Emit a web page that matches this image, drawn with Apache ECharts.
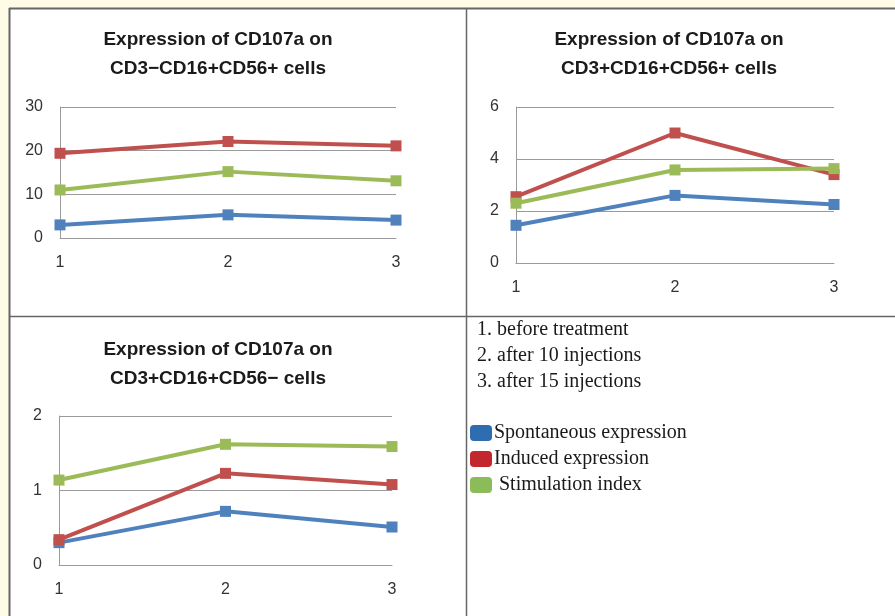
<!DOCTYPE html>
<html>
<head>
<meta charset="utf-8">
<script src="https://cdn.jsdelivr.net/npm/echarts@6/dist/echarts.min.js"></script>
<style>
  html, body { margin: 0; padding: 0; background: #fefbe7; }
  #chart { width: 895px; height: 616px; }
</style>
</head>
<body>
<div id="chart"></div>
<script>
// ---- data ----
const categories = ['1', '2', '3'];
const seriesNames = ['Spontaneous expression', 'Induced expression', 'Stimulation index'];
const seriesColors = ['#4f81bd', '#c0504d', '#9bbb59'];
const legendColors = ['#2d6db0', '#c1272d', '#8cbc5a'];

const panelTitles = [
  ['Expression of CD107a on', 'CD3\u2212CD16+CD56+ cells'],
  ['Expression of CD107a on', 'CD3+CD16+CD56+ cells'],
  ['Expression of CD107a on', 'CD3+CD16+CD56\u2212 cells']
];
const yMax = [30, 6, 2];
const yInterval = [10, 2, 1];

// panel 1: CD3-CD16+CD56+
const p1Spontaneous = [3.0, 5.3, 4.1];
const p1Induced = [19.4, 22.1, 21.1];
const p1Stimulation = [11.0, 15.2, 13.1];
// panel 2: CD3+CD16+CD56+
const p2Spontaneous = [1.45, 2.6, 2.25];
const p2Induced = [2.55, 5.0, 3.4];
const p2Stimulation = [2.3, 3.58, 3.63];
// panel 3: CD3+CD16+CD56-
const p3Spontaneous = [0.30, 0.72, 0.51];
const p3Induced = [0.34, 1.23, 1.08];
const p3Stimulation = [1.14, 1.62, 1.59];

const noteLines = ['1. before treatment', '2. after 10 injections', '3. after 15 injections'];

const panelData = [
  [p1Spontaneous, p1Induced, p1Stimulation],
  [p2Spontaneous, p2Induced, p2Stimulation],
  [p3Spontaneous, p3Induced, p3Stimulation]
];

// ---- layout ----
const grids = [
  { left: 60, top: 107, width: 336, height: 131 },
  { left: 516, top: 107, width: 318, height: 156 },
  { left: 59, top: 416, width: 333, height: 149 }
];
const titlePos = [
  { x: 218, y: 40 },
  { x: 669, y: 40 },
  { x: 218, y: 350 }
];

const sansFont = 'Liberation Sans, Arial, sans-serif';
const serifFont = 'Liberation Serif, Times New Roman, serif';

const xAxes = [], yAxes = [], series = [];
grids.forEach((g, i) => {
  xAxes.push({
    type: 'category', gridIndex: i, data: categories, boundaryGap: false,
    axisLine: { show: true, lineStyle: { color: '#9a9a9a', width: 1 } },
    axisTick: { show: false },
    axisLabel: { color: '#333', fontFamily: sansFont, fontSize: 16, margin: 17 }
  });
  yAxes.push({
    type: 'value', gridIndex: i, min: 0, max: yMax[i], interval: yInterval[i],
    axisLine: { show: true, lineStyle: { color: '#9a9a9a', width: 1 } },
    axisTick: { show: false },
    splitLine: { show: true, lineStyle: { color: '#9a9a9a', width: 1 } },
    axisLabel: { color: '#333', fontFamily: sansFont, fontSize: 16, margin: 17 }
  });
  panelData[i].forEach((vals, k) => {
    series.push({
      name: seriesNames[k], type: 'line', xAxisIndex: i, yAxisIndex: i,
      data: vals, symbol: 'rect', symbolSize: 11, showSymbol: true,
      lineStyle: { color: seriesColors[k], width: 4 },
      itemStyle: { color: seriesColors[k] },
      emphasis: { disabled: true },
      z: 3 + k
    });
  });
});

const graphics = [
  // white panel area
  { type: 'rect', shape: { x: 9, y: 8, width: 886, height: 608 }, style: { fill: '#ffffff' }, z: -10, silent: true },
  // frame lines
  { type: 'line', shape: { x1: 9, y1: 8.5, x2: 895, y2: 8.5 }, style: { stroke: '#666', lineWidth: 2 }, z: -5 },
  { type: 'line', shape: { x1: 9.5, y1: 8, x2: 9.5, y2: 616 }, style: { stroke: '#666', lineWidth: 2 }, z: -5 },
  { type: 'line', shape: { x1: 466.5, y1: 8, x2: 466.5, y2: 616 }, style: { stroke: '#666', lineWidth: 1.5 }, z: -5 },
  { type: 'line', shape: { x1: 9, y1: 316.5, x2: 895, y2: 316.5 }, style: { stroke: '#666', lineWidth: 1.5 }, z: -5 }
];
titlePos.forEach((p, i) => {
  panelTitles[i].forEach((line, j) => {
    graphics.push({
      type: 'text', x: p.x, y: p.y + j * 29,
      style: { text: line, fill: '#1a1a1a', font: 'bold 19px ' + sansFont, textAlign: 'center', textVerticalAlign: 'middle' }
    });
  });
});
noteLines.forEach((t, j) => {
  graphics.push({
    type: 'text', x: 477, y: 330 + j * 26,
    style: { text: t, fill: '#1a1a1a', font: '20px ' + serifFont, textAlign: 'left', textVerticalAlign: 'middle' }
  });
});

const chart = echarts.init(document.getElementById('chart'), null, { renderer: 'canvas' });
chart.setOption({
  animation: false,
  backgroundColor: 'transparent',
  grid: grids.map(g => Object.assign({ containLabel: false }, g)),
  xAxis: xAxes,
  yAxis: yAxes,
  series: series,
  legend: {
    orient: 'vertical', left: 465, top: 418,
    itemWidth: 22, itemHeight: 16, itemGap: 6, icon: 'roundRect',
    selectedMode: false,
    textStyle: { fontFamily: serifFont, fontSize: 20, color: '#1a1a1a', padding: [0, 0, 0, -3] },
    formatter: function (name) { return name === 'Stimulation index' ? ' ' + name : name; },
    data: seriesNames.map((n, k) => ({ name: n, itemStyle: { color: legendColors[k] } }))
  },
  graphic: graphics
});
</script>
</body>
</html>
